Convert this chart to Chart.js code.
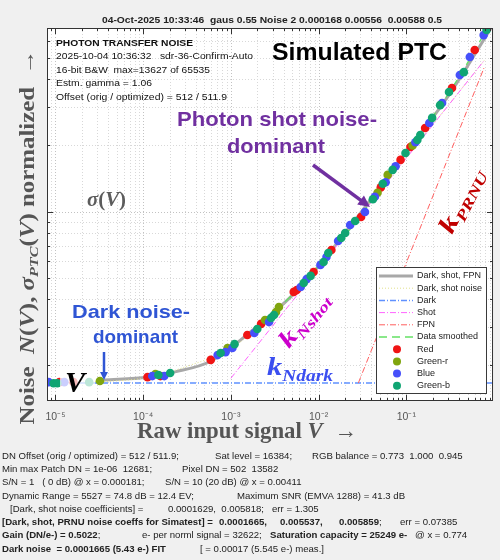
<!DOCTYPE html>
<html>
<head>
<meta charset="utf-8">
<script src="https://cdn.jsdelivr.net/npm/chart.js@4.4.1/dist/chart.umd.min.js"></script>
<style>
  html, body { margin: 0; padding: 0; background: #f0f0f0; }
</style>
</head>
<body>
<canvas id="ptcChart" width="500" height="560"></canvas>
<script>
// valores (x = senal normalizada, y = ruido normalizado)
const redX = [1.11e-5, 1.60e-5, 1.12e-4, 1.57e-4, 5.89e-4, 1.54e-3, 2.21e-3, 5.21e-3, 5.64e-3, 8.77e-3, 1.40e-2, 3.05e-2, 5.12e-2, 8.60e-2, 0.1115, 0.164, 0.332, 0.603];
const redY = [1.68e-4, 1.68e-4, 1.77e-4, 1.79e-4, 2.12e-4, 2.75e-4, 3.09e-4, 4.32e-4, 4.41e-4, 5.32e-4, 6.70e-4, 9.46e-4, 1.29e-3, 1.72e-3, 1.97e-3, 2.40e-3, 3.65e-3, 5.43e-3];

const greenRX = [3.21e-5, 1.38e-4, 9.16e-4, 2.45e-3, 3.27e-3, 3.53e-3, 4.70e-2, 6.14e-2, 0.118];
const greenRY = [1.70e-4, 1.83e-4, 2.40e-4, 3.22e-4, 3.50e-4, 3.69e-4, 1.22e-3, 1.47e-3, 2.00e-3];

const blueX = [8.34e-6, 1.26e-5, 1.27e-4, 1.74e-4, 7.06e-4, 8.69e-4, 1.04e-3, 1.85e-3, 2.72e-3, 6.25e-3, 7.31e-3, 1.05e-2, 1.23e-2, 1.67e-2, 2.29e-2, 3.38e-2, 4.38e-2, 5.82e-2, 7.55e-2, 0.127, 0.183, 0.256, 0.408, 0.530, 0.762];
const blueY = [1.68e-4, 1.68e-4, 1.79e-4, 1.79e-4, 2.23e-4, 2.30e-4, 2.40e-4, 2.81e-4, 3.15e-4, 4.55e-4, 4.94e-4, 5.73e-4, 6.22e-4, 7.36e-4, 8.70e-4, 9.97e-4, 1.17e-3, 1.36e-3, 1.61e-3, 2.07e-3, 2.53e-3, 3.12e-3, 4.18e-3, 5.05e-3, 6.35e-3];

const greenBX = [9.5e-6, 1.05e-5, 2.42e-5, 1.49e-4, 2.03e-4, 7.64e-4, 1.10e-3, 2.00e-3, 2.87e-3, 3.10e-3, 6.76e-3, 8.11e-3, 1.14e-2, 1.29e-2, 1.81e-2, 2.01e-2, 2.61e-2, 4.16e-2, 5.39e-2, 6.99e-2, 9.80e-2, 0.1337, 0.1445, 0.197, 0.243, 0.307, 0.453, 0.823];
const greenBY = [1.66e-4, 1.66e-4, 1.68e-4, 1.81e-4, 1.85e-4, 2.28e-4, 2.50e-4, 2.93e-4, 3.29e-4, 3.39e-4, 4.74e-4, 5.11e-4, 5.91e-4, 6.49e-4, 7.59e-4, 8.00e-4, 9.07e-4, 1.14e-3, 1.34e-3, 1.55e-3, 1.85e-3, 2.12e-3, 2.23e-3, 2.67e-3, 3.05e-3, 3.50e-3, 4.31e-3, 6.70e-3];

// curvas del ajuste
const fitX = [3.56e-5, 1.12e-4, 2.31e-4, 5.89e-4, 1.62e-3, 5.93e-3, 2.17e-2, 7.96e-2, 0.291, 0.94];
const fitY = [1.72e-4, 1.77e-4, 1.87e-4, 2.09e-4, 2.81e-4, 4.46e-4, 8.34e-4, 1.66e-3, 3.29e-3, 6.90e-3];
const darkShotX = [8.0e-6, 1e-4, 3e-4, 1e-3, 3e-3, 1e-2, 3e-2, 0.1, 0.3, 0.774];
const darkShotY = [1.665e-4, 1.75e-4, 1.97e-4, 2.4e-4, 3.4e-4, 5.8e-4, 9.7e-4, 1.76e-3, 3.04e-3, 4.87e-3];
const darkX = [8.0e-6, 0.975];
const darkY = [1.665e-4, 1.665e-4];
const shotX = [1e-3, 0.774];
const shotY = [1.75e-4, 4.87e-3];
const fpnX = [2.84e-2, 0.774];
const fpnY = [1.665e-4, 4.53e-3];
const smoothX = [1.5e-3, 3.5e-3, 8e-3, 1.5e-2, 3e-2, 6e-2, 0.1, 0.2, 0.4, 0.82];
const smoothY = [2.72e-4, 3.65e-4, 5.1e-4, 6.9e-4, 9.5e-4, 1.45e-3, 1.87e-3, 2.7e-3, 4.1e-3, 6.7e-3];

// ejes
const xMin = 8.0e-6, xMax = 0.975;
const yMin = 1.379e-4, yMax = 6.84e-3;
const xTickValues = [1e-5, 1e-4, 1e-3, 1e-2, 1e-1];
const xTickLabels = ["10\u207B\u2075", "10\u207B\u2074", "10\u207B\u00B3", "10\u207B\u00B2", "10\u207B\u00B9"];
const legendOrder = ["Dark, shot, FPN", "Dark, shot noise", "Dark", "Shot", "FPN", "Data smoothed", "Red", "Green-r", "Blue", "Green-b"];

const SANS = '"Liberation Sans", Arial, sans-serif';
const SERIF = '"Liberation Serif", "Times New Roman", serif';

function pts(xs, ys) {
    return xs.map((x, i) => ({ x: x, y: ys[i] }));
}

// ticks 1..9 por decada
function logTicks(min, max) {
    let out = [];
    for (let e = -6; e <= 0; e++) {
        for (let m = 1; m <= 9; m++) {
            let v = m * Math.pow(10, e);
            if (v >= min && v <= max) out.push({ value: v, major: m === 1 });
        }
    }
    return out;
}

// texto con varios estilos, estirado en horizontal hasta "width"
function fitRich(ctx, segs, x, y, width, align) {
    let w = 0;
    segs.forEach((s) => { ctx.font = s.f; s.w = ctx.measureText(s.t).width; w += s.w; });
    const sx = width ? width / w : 1;
    ctx.save();
    ctx.textAlign = "left";
    ctx.translate(x, y);
    ctx.scale(sx, 1);
    let cx = align === "center" ? -w / 2 : 0;
    segs.forEach((s) => { ctx.font = s.f; ctx.fillText(s.t, cx, s.dy || 0); cx += s.w; });
    ctx.restore();
}

function fitText(ctx, text, x, y, font, width, align) {
    fitRich(ctx, [{ t: text, f: font }], x, y, width, align);
}

function arrow(ctx, x1, y1, x2, y2, color, w, head) {
    const a = Math.atan2(y2 - y1, x2 - x1);
    ctx.strokeStyle = color;
    ctx.fillStyle = color;
    ctx.lineWidth = w;
    ctx.setLineDash([]);
    ctx.beginPath();
    ctx.moveTo(x1, y1);
    ctx.lineTo(x2 - head * 0.8 * Math.cos(a), y2 - head * 0.8 * Math.sin(a));
    ctx.stroke();
    ctx.beginPath();
    ctx.moveTo(x2, y2);
    ctx.lineTo(x2 - head * Math.cos(a - 0.45), y2 - head * Math.sin(a - 0.45));
    ctx.lineTo(x2 - head * Math.cos(a + 0.45), y2 - head * Math.sin(a + 0.45));
    ctx.closePath();
    ctx.fill();
}

function kLabel(ctx, x, y, ang, sub, color, kSize, subSize, len) {
    ctx.save();
    ctx.translate(x, y);
    ctx.rotate(ang);
    ctx.fillStyle = color;
    ctx.textBaseline = "alphabetic";
    fitRich(ctx, [
        { t: "k", f: "italic bold " + kSize + "px " + SERIF },
        { t: sub, f: "italic bold " + subSize + "px " + SERIF, dy: subSize * 0.35 }
    ], 0, 0, len, "left");
    ctx.restore();
}

const decor = {
    id: "decor",
    beforeDraw(chart) {
        const { ctx, chartArea: a } = chart;
        ctx.save();
        ctx.fillStyle = "#f0f0f0";
        ctx.fillRect(0, 0, chart.width, chart.height);
        ctx.fillStyle = "#ffffff";
        ctx.fillRect(a.left, a.top, a.right - a.left, a.bottom - a.top);
        ctx.restore();
    },
    beforeDatasetsDraw(chart) {
        const { ctx, chartArea: a, scales } = chart;
        ctx.save();
        ctx.lineWidth = 1;
        ctx.setLineDash([1, 2]);
        scales.x.ticks.forEach((t) => {
            const px = Math.round(scales.x.getPixelForValue(t.value)) + 0.5;
            ctx.strokeStyle = t.major ? "#c2c2c2" : "#d8d8d8";
            ctx.beginPath(); ctx.moveTo(px, a.top); ctx.lineTo(px, a.bottom); ctx.stroke();
        });
        scales.y.ticks.forEach((t) => {
            const py = Math.round(scales.y.getPixelForValue(t.value)) + 0.5;
            ctx.strokeStyle = t.major ? "#c2c2c2" : "#d8d8d8";
            ctx.beginPath(); ctx.moveTo(a.left, py); ctx.lineTo(a.right, py); ctx.stroke();
        });
        ctx.restore();
    },
    afterDatasetsDraw(chart) {
        const { ctx, chartArea: a, scales } = chart;
        ctx.save();

        // caja semitransparente detras de la V
        ctx.fillStyle = "rgba(255,255,255,0.72)";
        ctx.fillRect(60, 368, 35, 28);
        ctx.fillStyle = "#000";
        ctx.textBaseline = "alphabetic";
        ctx.font = "italic bold 30px " + SERIF;
        ctx.fillText("V", 65, 392);

        // sigma(V)
        ctx.fillStyle = "#5c5c5c";
        const b22 = "bold 22px " + SERIF, bi22 = "italic bold 22px " + SERIF;
        fitRich(ctx, [{ t: "\u03C3", f: bi22 }, { t: "(", f: b22 }, { t: "V", f: bi22 }, { t: ")", f: b22 }], 87, 206, 39, "left");

        // bloque de info arriba a la izquierda
        ctx.textBaseline = "middle";
        ctx.fillStyle = "#111";
        fitText(ctx, "PHOTON TRANSFER NOISE", 56, 43, "bold 9.5px " + SANS, 137);
        fitText(ctx, "2025-10-04 10:36:32   sdr-36-Confirm-Auto", 56, 56.5, "9.5px " + SANS, 197);
        fitText(ctx, "16-bit B&W  max=13627 of 65535", 56, 70, "9.5px " + SANS, 154);
        fitText(ctx, "Estm. gamma = 1.06", 56, 83.5, "9.5px " + SANS, 96);
        fitText(ctx, "Offset (orig / optimized) = 512 / 511.9", 56, 97.5, "9.5px " + SANS, 171);

        ctx.fillStyle = "#000";
        fitText(ctx, "Simulated PTC", 272, 54, "bold 23px " + SANS, 175);

        // anotaciones
        ctx.fillStyle = "#7030a0";
        fitText(ctx, "Photon shot noise-", 277, 120, "bold 21px " + SANS, 200, "center");
        fitText(ctx, "dominant", 276, 147, "bold 21px " + SANS, 98, "center");
        arrow(ctx, 313, 165, 370, 207, "#7030a0", 3.5, 13);

        ctx.fillStyle = "#2f55d4";
        fitText(ctx, "Dark noise-", 131, 313, "bold 19px " + SANS, 118, "center");
        fitText(ctx, "dominant", 135.5, 338, "bold 19px " + SANS, 85, "center");
        arrow(ctx, 104, 352, 104, 380, "#2f55d4", 2.5, 9);

        kLabel(ctx, 267, 375, 0, "Ndark", "#3b4ef0", 25, 16, 66);
        kLabel(ctx, 289, 349, -51 * Math.PI / 180, "Nshot", "#cc00cc", 24, 15, 64);
        kLabel(ctx, 452, 235, -63 * Math.PI / 180, "PRNU", "#c00000", 25, 15, 70);

        // leyenda
        const bx = 376, by = 267, bw = 110, bh = 126;
        ctx.fillStyle = "#fff";
        ctx.fillRect(bx, by, bw, bh);
        ctx.strokeStyle = "#3a3a3a";
        ctx.lineWidth = 1;
        ctx.setLineDash([]);
        ctx.strokeRect(bx + 0.5, by + 0.5, bw, bh);
        ctx.textBaseline = "middle";
        ctx.textAlign = "left";
        ctx.font = "9px " + SANS;
        legendOrder.forEach((lab, i) => {
            const ds = chart.data.datasets.find((d) => d.label === lab);
            const yy = 276 + i * 12.2;
            if (ds.showLine) {
                ctx.strokeStyle = ds.borderColor;
                ctx.lineWidth = ds.borderWidth;
                ctx.setLineDash(ds.borderDash || []);
                ctx.beginPath(); ctx.moveTo(379, yy); ctx.lineTo(413, yy); ctx.stroke();
            } else {
                ctx.fillStyle = ds.pointBackgroundColor;
                ctx.beginPath(); ctx.arc(397, yy, 4, 0, Math.PI * 2); ctx.fill();
            }
            ctx.fillStyle = "#222";
            ctx.fillText(lab, 417, yy);
        });

        // marco y ticks hacia adentro
        ctx.setLineDash([]);
        ctx.strokeStyle = "#333";
        ctx.lineWidth = 1;
        ctx.strokeRect(a.left + 0.5, a.top + 0.5, a.right - a.left - 1, a.bottom - a.top - 1);
        ctx.beginPath();
        scales.x.ticks.forEach((t) => {
            const px = Math.round(scales.x.getPixelForValue(t.value)) + 0.5;
            const len = t.major ? 6 : 3;
            ctx.moveTo(px, a.bottom); ctx.lineTo(px, a.bottom - len);
            ctx.moveTo(px, a.top); ctx.lineTo(px, a.top + len);
        });
        scales.y.ticks.forEach((t) => {
            const py = Math.round(scales.y.getPixelForValue(t.value)) + 0.5;
            const len = t.major ? 6 : 3;
            ctx.moveTo(a.left, py); ctx.lineTo(a.left + len, py);
            ctx.moveTo(a.right, py); ctx.lineTo(a.right - len, py);
        });
        ctx.stroke();
        ctx.restore();
    },
    afterDraw(chart) {
        const ctx = chart.ctx;
        ctx.save();
        ctx.textBaseline = "middle";
        ctx.fillStyle = "#222";
        fitText(ctx, "04-Oct-2025 10:33:46  gaus 0.55 Noise 2 0.000168 0.00556  0.00588 0.5", 272, 20, "bold 9.5px " + SANS, 340, "center");

        // titulos de ejes
        ctx.fillStyle = "#555";
        const B = "bold 23px " + SERIF, BI = "italic bold 23px " + SERIF;
        fitRich(ctx, [{ t: "Raw input signal ", f: B }, { t: "V", f: BI }, { t: "  \u2192", f: B }], 247, 432, 220, "center");

        ctx.save();
        ctx.translate(27, 237);
        ctx.rotate(-Math.PI / 2);
        ctx.textBaseline = "alphabetic";
        const yb = "bold 20px " + SERIF, ybi = "italic bold 20px " + SERIF, ysub = "italic bold 13px " + SERIF;
        fitRich(ctx, [
            { t: "Noise  ", f: yb }, { t: "N", f: ybi }, { t: "(", f: yb }, { t: "V", f: ybi }, { t: "), ", f: yb },
            { t: "\u03C3", f: ybi }, { t: "PTC", f: ysub, dy: 4 }, { t: "(", f: yb }, { t: "V", f: ybi }, { t: ")", f: yb },
            { t: " normalized  \u2192", f: yb }
        ], 0, 7, 375, "center");
        ctx.restore();

        // texto de resultados abajo: trozos [x, [[texto, negrita], ...]]
        ctx.fillStyle = "#222";
        const lines = [
            [[2, [["DN Offset (orig / optimized) = 512 / 511.9;", 0]]], [215, [["Sat level = 16384;", 0]]], [312, [["RGB balance = 0.773  1.000  0.945", 0]]]],
            [[2, [["Min max Patch DN = 1e-06  12681;", 0]]], [182, [["Pixel DN = 502  13582", 0]]]],
            [[2, [["S/N = 1   ( 0 dB) @ x = 0.000181;", 0]]], [165, [["S/N = 10 (20 dB) @ x = 0.00411", 0]]]],
            [[2, [["Dynamic Range = 5527 = 74.8 dB = 12.4 EV;", 0]]], [237, [["Maximum SNR (EMVA 1288) = 41.3 dB", 0]]]],
            [[10, [["[Dark, shot noise coefficients] =", 0]]], [168, [["0.0001629,  0.005818;", 0]]], [272, [["err = 1.305", 0]]]],
            [[2, [["[Dark, shot, PRNU noise coeffs for Simatest] =", 1]]], [219, [["0.0001665,", 1]]], [280, [["0.005537,", 1]]], [339, [["0.005859", 1], [";", 0]]], [400, [["err = 0.07385", 0]]]],
            [[2, [["Gain (DN/e-) = 0.5022", 1], [";", 0]]], [142, [["e- per norml signal = 32622;", 0]]], [270, [["Saturation capacity = 25249 e-", 1]]], [415, [["@ x = 0.774", 0]]]],
            [[2, [["Dark noise  = 0.0001665 (5.43 e-) FIT", 1]]], [200, [["[ = 0.00017 (5.545 e-) meas.]", 0]]]]
        ];
        lines.forEach((ln, i) => {
            ln.forEach((chunk) => {
                const segs = chunk[1].map((s) => ({ t: s[0], f: (s[1] ? "bold " : "") + "9.6px " + SANS }));
                fitRich(ctx, segs, chunk[0], 456 + i * 13.3, 0, "left");
            });
        });
        ctx.restore();
    }
};

function pointSet(label, xs, ys, color) {
    return { label: label, data: pts(xs, ys), showLine: false, pointRadius: 4.3, pointBorderWidth: 0, pointBackgroundColor: color, pointBorderColor: color };
}
function lineSet(label, xs, ys, color, width, dash) {
    return { label: label, data: pts(xs, ys), showLine: true, fill: false, pointRadius: 0, borderColor: color, borderWidth: width, borderDash: dash, cubicInterpolationMode: "monotone" };
}

document.addEventListener("DOMContentLoaded", () => {
    const ctx = document.getElementById("ptcChart");
    // el primer dataset queda encima
    const datasets = [
        pointSet("Green-b", greenBX, greenBY, "rgb(16,165,115)"),
        pointSet("Blue", blueX, blueY, "rgb(70,80,250)"),
        pointSet("Green-r", greenRX, greenRY, "rgb(128,165,15)"),
        pointSet("Red", redX, redY, "rgb(240,20,20)"),
        lineSet("Data smoothed", smoothX, smoothY, "rgb(100,225,100)", 1.3, [8, 5]),
        lineSet("FPN", fpnX, fpnY, "rgb(255,95,95)", 1, [6, 2, 1, 2]),
        lineSet("Shot", shotX, shotY, "rgb(255,100,255)", 1, [6, 2, 1, 2]),
        lineSet("Dark", darkX, darkY, "rgb(95,145,255)", 1.5, [6, 2, 1, 2]),
        lineSet("Dark, shot noise", darkShotX, darkShotY, "rgb(225,225,140)", 1, [1, 2]),
        lineSet("Dark, shot, FPN", fitX, fitY, "rgb(168,168,168)", 3, [])
    ];

    new Chart(ctx, {
        type: "scatter",
        data: { datasets: datasets },
        options: {
            responsive: false,
            animation: false,
            layout: { padding: { top: 28, right: 4, left: 0, bottom: 0 } },
            plugins: { legend: { display: false }, tooltip: { enabled: false } },
            scales: {
                x: {
                    type: "logarithmic",
                    min: xMin,
                    max: xMax,
                    grid: { display: false, drawTicks: false },
                    border: { display: false },
                    afterBuildTicks: (s) => { s.ticks = logTicks(xMin, xMax); },
                    afterFit: (s) => { s.height = 159; },
                    ticks: {
                        autoSkip: false,
                        maxRotation: 0,
                        padding: 10,
                        color: "#555",
                        font: { size: 10.5, family: SANS },
                        callback: (v) => {
                            const i = xTickValues.findIndex((t) => Math.abs(t - v) / t < 1e-6);
                            return i >= 0 ? xTickLabels[i] : "";
                        }
                    }
                },
                y: {
                    type: "logarithmic",
                    min: yMin,
                    max: yMax,
                    grid: { display: false },
                    border: { display: false },
                    afterBuildTicks: (s) => { s.ticks = logTicks(yMin, yMax); },
                    afterFit: (s) => { s.width = 47; },
                    ticks: { display: false }
                }
            }
        },
        plugins: [decor]
    });
});
</script>
</body>
</html>
